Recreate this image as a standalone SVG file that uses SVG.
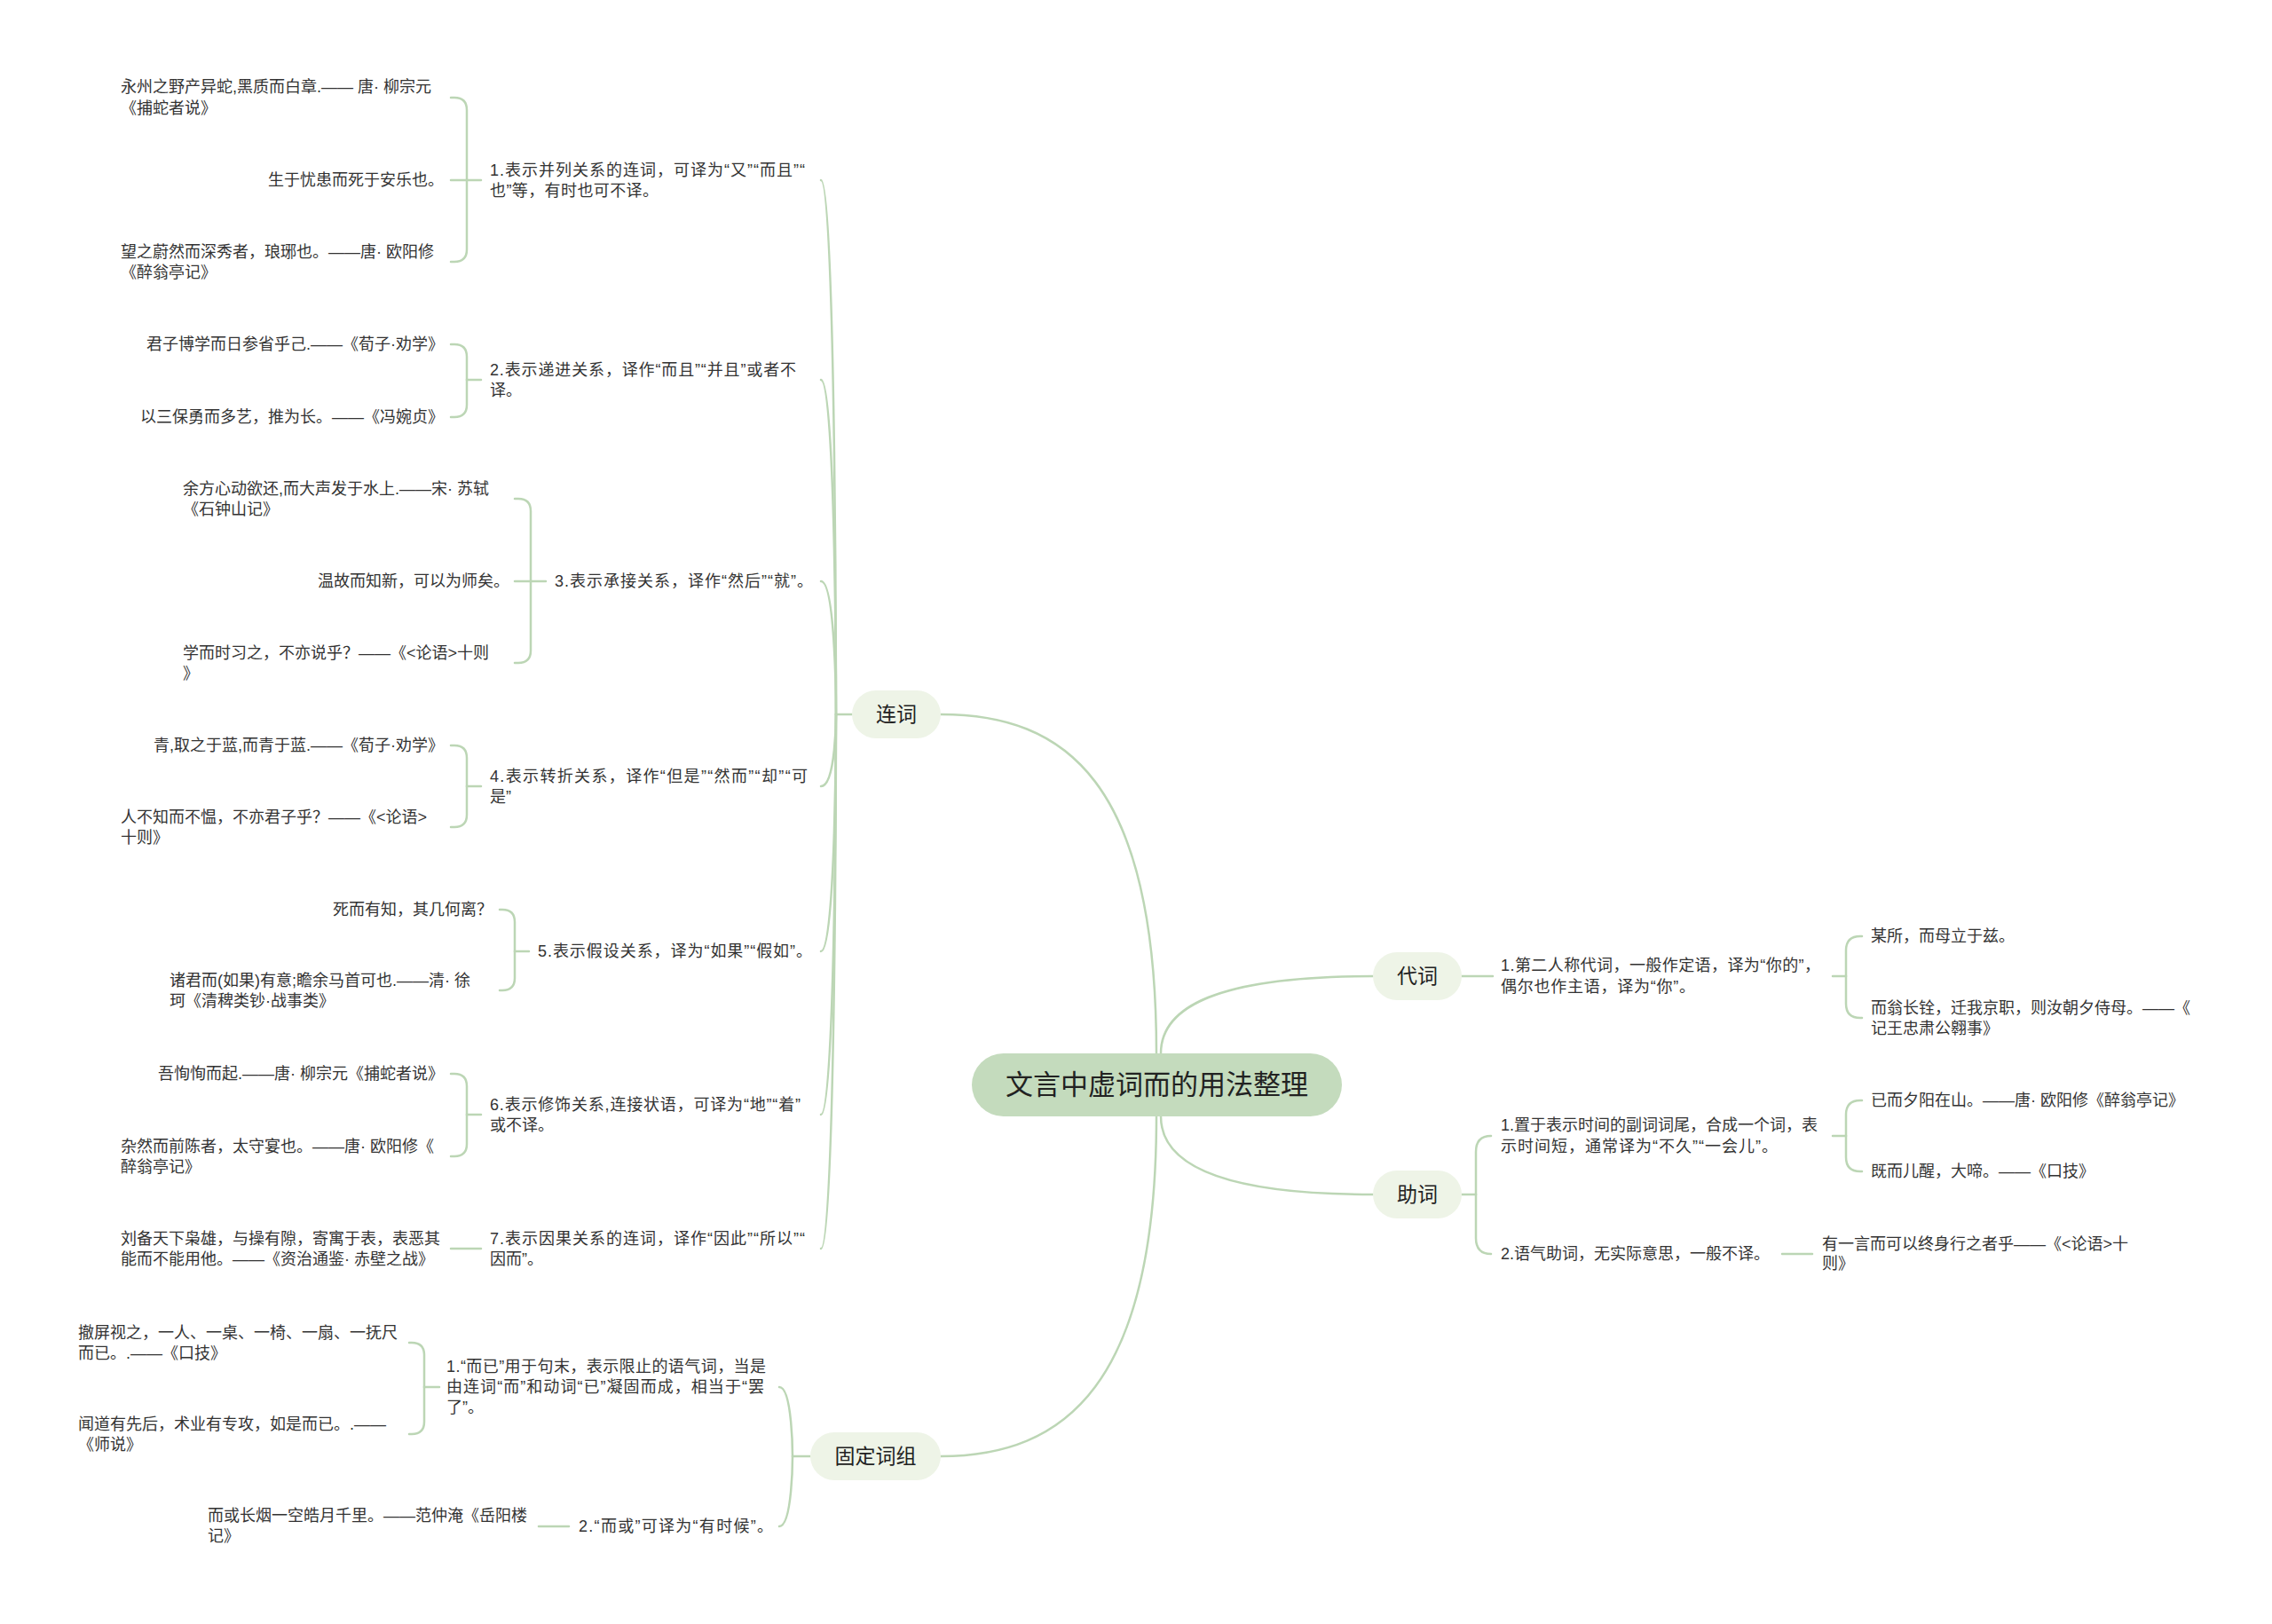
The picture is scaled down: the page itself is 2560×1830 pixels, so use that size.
<svg xmlns="http://www.w3.org/2000/svg" width="2560" height="1830" viewBox="0 0 2560 1830">
<style>
.ln{fill:none;stroke:#bcd6b5;stroke-width:2.5;stroke-linecap:round}
text{font-family:"Liberation Sans","Noto Sans CJK SC",sans-serif;font-size:18px;fill:#333;dominant-baseline:central}
.l1 rect{fill:#eef4e7}
.l1 text{font-size:23px;text-anchor:middle;fill:#222}
.root rect{fill:#c4dbbd}
.root text{font-size:31px;text-anchor:middle;fill:#222}
.e{text-anchor:end}
</style>
<rect width="2560" height="1830" fill="#ffffff"/>
<g id="connectors">
<path class="ln" d="M1303 1187 C1303 880 1200 805 1060 805"/>
<path class="ln" d="M1308 1187 C1308 1135 1370 1100 1547 1100"/>
<path class="ln" d="M1308 1258 C1308 1310 1370 1346 1547 1346"/>
<path class="ln" d="M1303 1258 C1303 1560 1200 1641 1060 1641"/>
<path class="ln" d="M960 805 H942"/>
<path class="ln" d="M942 805 C942 805 942 203 925 203"/>
<path class="ln" d="M942 805 C942 805 942 428 925 428"/>
<path class="ln" d="M942 805 C942 805 942 655 925 655"/>
<path class="ln" d="M942 805 C942 805 942 886 925 886"/>
<path class="ln" d="M942 805 C942 805 942 1072 925 1072"/>
<path class="ln" d="M942 805 C942 805 942 1256 925 1256"/>
<path class="ln" d="M942 805 C942 805 942 1407 925 1407"/>
<path class="ln" d="M542 203 H526"/>
<path class="ln" d="M526 203 V124 Q526 110 512 110 H508"/>
<path class="ln" d="M526 203 H508"/>
<path class="ln" d="M526 203 V281 Q526 295 512 295 H508"/>
<path class="ln" d="M542 428 H526"/>
<path class="ln" d="M526 428 V402 Q526 388 512 388 H508"/>
<path class="ln" d="M526 428 V456 Q526 470 512 470 H508"/>
<path class="ln" d="M615 655 H598"/>
<path class="ln" d="M598 655 V576 Q598 562 584 562 H580"/>
<path class="ln" d="M598 655 H580"/>
<path class="ln" d="M598 655 V733 Q598 747 584 747 H580"/>
<path class="ln" d="M542 886 H526"/>
<path class="ln" d="M526 886 V854 Q526 840 512 840 H508"/>
<path class="ln" d="M526 886 V918 Q526 932 512 932 H508"/>
<path class="ln" d="M596 1072 H580"/>
<path class="ln" d="M580 1072 V1039 Q580 1025 566 1025 H563"/>
<path class="ln" d="M580 1072 V1102 Q580 1116 566 1116 H563"/>
<path class="ln" d="M542 1256 H526"/>
<path class="ln" d="M526 1256 V1224 Q526 1210 512 1210 H508"/>
<path class="ln" d="M526 1256 V1289 Q526 1303 512 1303 H508"/>
<path class="ln" d="M542 1407 H508"/>
<path class="ln" d="M913 1641 H893"/>
<path class="ln" d="M893 1641 C893 1641 893 1563 878 1563"/>
<path class="ln" d="M893 1641 C893 1641 893 1720 878 1720"/>
<path class="ln" d="M495 1563 H478"/>
<path class="ln" d="M478 1563 V1527 Q478 1513 464 1513 H461"/>
<path class="ln" d="M478 1563 V1602 Q478 1616 464 1616 H461"/>
<path class="ln" d="M641 1720 H607"/>
<path class="ln" d="M1647 1100 H1682"/>
<path class="ln" d="M2065 1100 H2080"/>
<path class="ln" d="M2080 1100 V1071 Q2080 1055 2096 1055 H2098"/>
<path class="ln" d="M2080 1100 V1131 Q2080 1147 2096 1147 H2098"/>
<path class="ln" d="M1647 1346 H1663"/>
<path class="ln" d="M1663 1346 V1298 Q1663 1280 1680 1280"/>
<path class="ln" d="M1663 1346 V1395 Q1663 1413 1680 1413"/>
<path class="ln" d="M2065 1280 H2080"/>
<path class="ln" d="M2080 1280 V1256 Q2080 1240 2096 1240 H2098"/>
<path class="ln" d="M2080 1280 V1304 Q2080 1320 2096 1320 H2098"/>
<path class="ln" d="M2008 1413 H2042"/>
</g>
<g id="root" class="root"><rect x="1095" y="1187" width="417" height="71" rx="35.5"/><text x="1303.5" y="1222">文言中虚词而的用法整理</text></g>
<g id="lianci" class="l1"><rect x="960" y="778" width="100" height="54" rx="27"/><text x="1010" y="805">连词</text></g>
<g id="daici" class="l1"><rect x="1547" y="1073" width="100" height="54" rx="27"/><text x="1597" y="1100">代词</text></g>
<g id="zhuci" class="l1"><rect x="1547" y="1319" width="100" height="54" rx="27"/><text x="1597" y="1346">助词</text></g>
<g id="guding" class="l1"><rect x="913" y="1614" width="147" height="54" rx="27"/><text x="986.5" y="1641">固定词组</text></g>
<g id="lc1"><text x="552" y="192" textLength="355" lengthAdjust="spacing">1.表示并列关系的连词，可译为“又”“而且”“</text><text x="552" y="215" textLength="190" lengthAdjust="spacing">也”等，有时也可不译。</text></g>
<g id="lc1a"><text x="136" y="98">永州之野产异蛇,黑质而白章.—— 唐· 柳宗元</text><text x="136" y="122">《捕蛇者说》</text></g>
<g id="lc1b"><text class="e" x="500" y="203">生于忧患而死于安乐也。</text></g>
<g id="lc1c"><text x="136" y="284">望之蔚然而深秀者，琅琊也。——唐· 欧阳修</text><text x="136" y="307">《醉翁亭记》</text></g>
<g id="lc2"><text x="552" y="417" textLength="345" lengthAdjust="spacing">2.表示递进关系，译作“而且”“并且”或者不</text><text x="552" y="440">译。</text></g>
<g id="lc2a"><text class="e" x="500" y="388">君子博学而日参省乎己.——《荀子·劝学》</text></g>
<g id="lc2b"><text class="e" x="500" y="470">以三保勇而多艺，推为长。——《冯婉贞》</text></g>
<g id="lc3"><text x="625" y="655" textLength="291" lengthAdjust="spacing">3.表示承接关系，译作“然后”“就”。</text></g>
<g id="lc3a"><text x="206" y="551">余方心动欲还,而大声发于水上.——宋· 苏轼</text><text x="206" y="574">《石钟山记》</text></g>
<g id="lc3b"><text class="e" x="574" y="655">温故而知新，可以为师矣。</text></g>
<g id="lc3c"><text x="206" y="736">学而时习之，不亦说乎？——《&lt;论语&gt;十则</text><text x="206" y="759">》</text></g>
<g id="lc4"><text x="552" y="875" textLength="358" lengthAdjust="spacing">4.表示转折关系，译作“但是”“然而”“却”“可</text><text x="552" y="898">是”</text></g>
<g id="lc4a"><text class="e" x="500" y="840">青,取之于蓝,而青于蓝.——《荀子·劝学》</text></g>
<g id="lc4b"><text x="136" y="921">人不知而不愠，不亦君子乎？——《&lt;论语&gt;</text><text x="136" y="944">十则》</text></g>
<g id="lc5"><text x="606" y="1072" textLength="309" lengthAdjust="spacing">5.表示假设关系，译为“如果”“假如”。</text></g>
<g id="lc5a"><text class="e" x="555" y="1025">死而有知，其几何离？</text></g>
<g id="lc5b"><text x="191" y="1105">诸君而(如果)有意;瞻余马首可也.——清· 徐</text><text x="191" y="1128">珂《清稗类钞·战事类》</text></g>
<g id="lc6"><text x="552" y="1245" textLength="350" lengthAdjust="spacing">6.表示修饰关系,连接状语，可译为“地”“着”</text><text x="552" y="1268">或不译。</text></g>
<g id="lc6a"><text class="e" x="500" y="1210">吾恂恂而起.——唐· 柳宗元《捕蛇者说》</text></g>
<g id="lc6b"><text x="136" y="1292">杂然而前陈者，太守宴也。——唐· 欧阳修《</text><text x="136" y="1315">醉翁亭记》</text></g>
<g id="lc7"><text x="552" y="1396" textLength="355" lengthAdjust="spacing">7.表示因果关系的连词，译作“因此”“所以”“</text><text x="552" y="1419">因而”。</text></g>
<g id="lc7a"><text x="136" y="1396">刘备天下枭雄，与操有隙，寄寓于表，表恶其</text><text x="136" y="1419">能而不能用他。——《资治通鉴· 赤壁之战》</text></g>
<g id="gd1"><text x="503" y="1540" textLength="360" lengthAdjust="spacing">1.“而已”用于句末，表示限止的语气词，当是</text><text x="503" y="1563" textLength="358" lengthAdjust="spacing">由连词“而”和动词“已”凝固而成，相当于“罢</text><text x="503" y="1586">了”。</text></g>
<g id="gd1a"><text x="88" y="1502">撤屏视之，一人、一桌、一椅、一扇、一抚尺</text><text x="88" y="1525">而已。.——《口技》</text></g>
<g id="gd1b"><text x="88" y="1605">闻道有先后，术业有专攻，如是而已。.——</text><text x="88" y="1628">《师说》</text></g>
<g id="gd2"><text x="652" y="1720" textLength="219" lengthAdjust="spacing">2.“而或”可译为“有时候”。</text></g>
<g id="gd2a"><text x="234" y="1708">而或长烟一空皓月千里。——范仲淹《岳阳楼</text><text x="234" y="1731">记》</text></g>
<g id="dc1"><text x="1691" y="1088" textLength="360" lengthAdjust="spacing">1.第二人称代词，一般作定语，译为“你的”，</text><text x="1691" y="1112" textLength="219" lengthAdjust="spacing">偶尔也作主语，译为“你”。</text></g>
<g id="dc1a"><text x="2108" y="1055">某所，而母立于兹。</text></g>
<g id="dc1b"><text x="2108" y="1136">而翁长铨，迁我京职，则汝朝夕侍母。——《</text><text x="2108" y="1159">记王忠肃公翱事》</text></g>
<g id="zc1"><text x="1691" y="1268">1.置于表示时间的副词词尾，合成一个词，表</text><text x="1691" y="1292" textLength="312" lengthAdjust="spacing">示时间短，通常译为“不久”“一会儿”。</text></g>
<g id="zc1a"><text x="2108" y="1240">已而夕阳在山。——唐· 欧阳修《醉翁亭记》</text></g>
<g id="zc1b"><text x="2108" y="1320">既而儿醒，大啼。——《口技》</text></g>
<g id="zc2"><text x="1691" y="1413">2.语气助词，无实际意思，一般不译。</text></g>
<g id="zc2a"><text x="2053" y="1402">有一言而可以终身行之者乎——《&lt;论语&gt;十</text><text x="2053" y="1424">则》</text></g>
</svg>
